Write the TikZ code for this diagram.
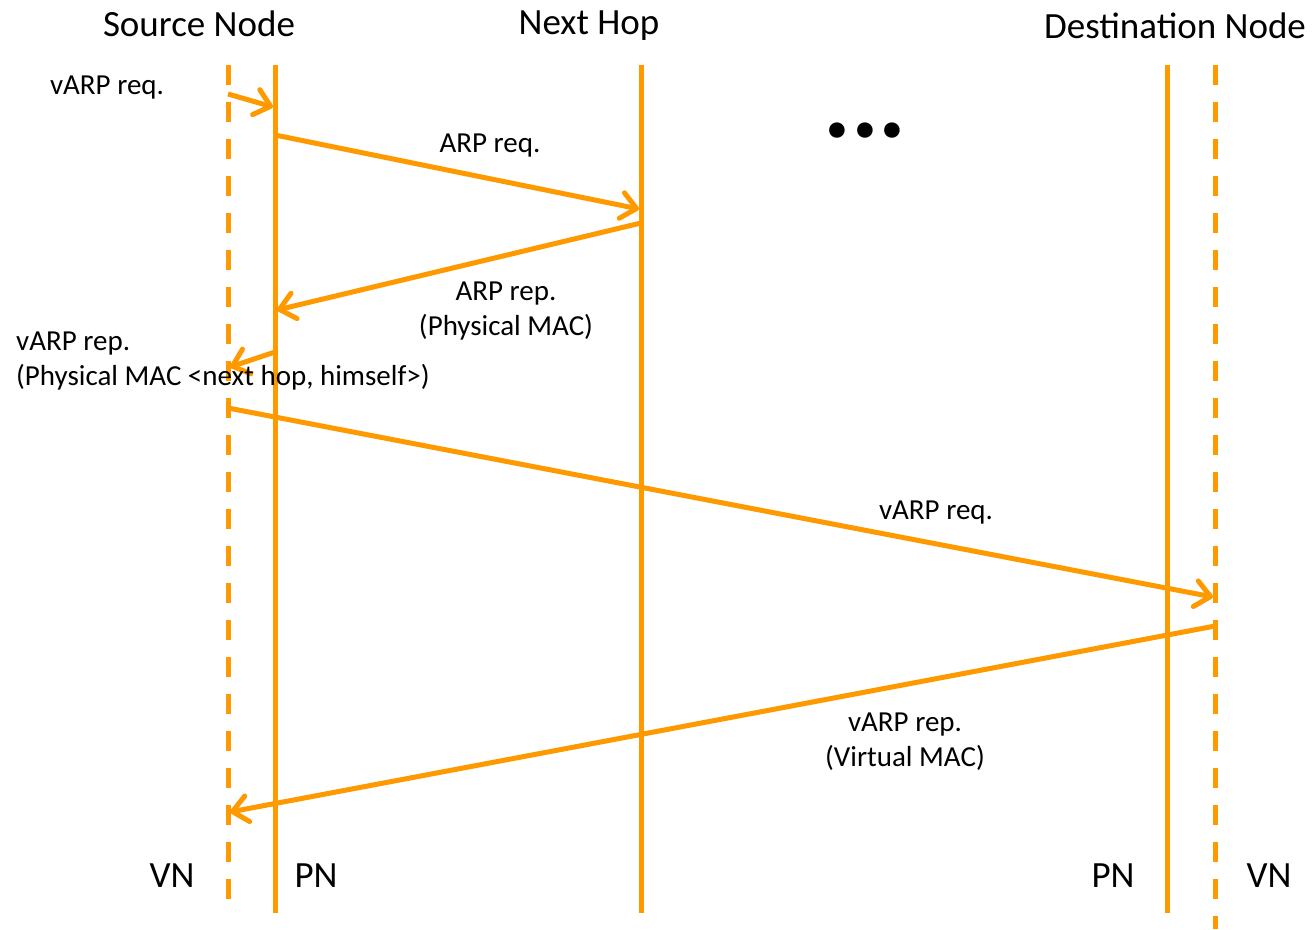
\documentclass[tikz,border=0pt]{standalone}
\usepackage{fontspec}
\setmainfont{Carlito}
\usetikzlibrary{arrows.meta}
\definecolor{lineorange}{RGB}{255,153,0}
\begin{document}
\begin{tikzpicture}[x=1pt,y=-1pt,
  lifeline/.style={draw=lineorange,line width=5pt},
  virtline/.style={lifeline,dash pattern=on 20pt off 17pt},
  msg/.style={draw=lineorange,line width=5pt,
    -{Straight Barb[length=15pt,width=26pt,line cap=round,line join=round]}},
  title/.style={font=\fontsize{37}{42}\selectfont,inner sep=0pt},
  lbl/.style={font=\fontsize{29}{35}\selectfont,inner sep=0pt,align=center},
  side/.style={font=\fontsize{37}{42}\selectfont,inner sep=0pt}]
\useasboundingbox (0,0) rectangle (1313,929);

% column headings
\node[title] (hsrc) at (199,24) {Source Node};
\node[title] (hhop) at (589,26) {Next Hop};
\node[title] (hdst) at (1175,26) {Destination Node};

% lifeline end points
\coordinate (svT) at (228,65);  \coordinate (svB) at (228,905);
\coordinate (spT) at (275,65);  \coordinate (spB) at (275,913);
\coordinate (nhT) at (641,65);  \coordinate (nhB) at (641,913);
\coordinate (dpT) at (1167,65); \coordinate (dpB) at (1167,913);
\coordinate (dvT) at (1215,65); \coordinate (dvB) at (1215,929);

\draw[virtline] (svT) -- (svB);
\draw[lifeline] (spT) -- (spB);
\draw[lifeline] (nhT) -- (nhB);
\draw[lifeline] (dpT) -- (dpB);
\draw[virtline] (dvT) -- (dvB);

% message end points
\coordinate (m1a) at (228,94);   \coordinate (m1b) at (273,107);
\coordinate (m2a) at (275,135);  \coordinate (m2b) at (639,209);
\coordinate (m3a) at (641,223);  \coordinate (m3b) at (277,310);
\coordinate (m4a) at (275,352);  \coordinate (m4b) at (230,367);
\coordinate (m5a) at (228,408);  \coordinate (m5b) at (1213,597);
\coordinate (m6a) at (1215,626); \coordinate (m6b) at (230,812);

\draw[msg] (m1a) -- (m1b);
\draw[msg] (m2a) -- (m2b);
\draw[msg] (m3a) -- (m3b);
\draw[msg] (m4a) -- (m4b);
\draw[msg] (m5a) -- (m5b);
\draw[msg] (m6a) -- (m6b);

% message labels
\node[lbl] (l1) at (107,88) {vARP req.};
\node[lbl] (l2) at (490,146) {ARP req.};
\node[lbl] (l3) at (506,311) {ARP rep.\\(Physical MAC)};
\node[lbl,anchor=west,align=left] (l4) at (16,361) {vARP rep.\\(Physical MAC <next hop, himself>)};
\node[lbl] (l5) at (936,513) {vARP req.};
\node[lbl] (l6) at (905,742) {vARP rep.\\(Virtual MAC)};

% ellipsis between the hops
\node[font=\fontsize{104}{104}\selectfont\bfseries,inner sep=0pt] (dots) at (865,131) {...};

% layer tags
\node[side] (vnl) at (172,876) {VN};
\node[side] (pnl) at (316,876) {PN};
\node[side] (pnr) at (1113,876) {PN};
\node[side] (vnr) at (1269,876) {VN};
\end{tikzpicture}
\end{document}
